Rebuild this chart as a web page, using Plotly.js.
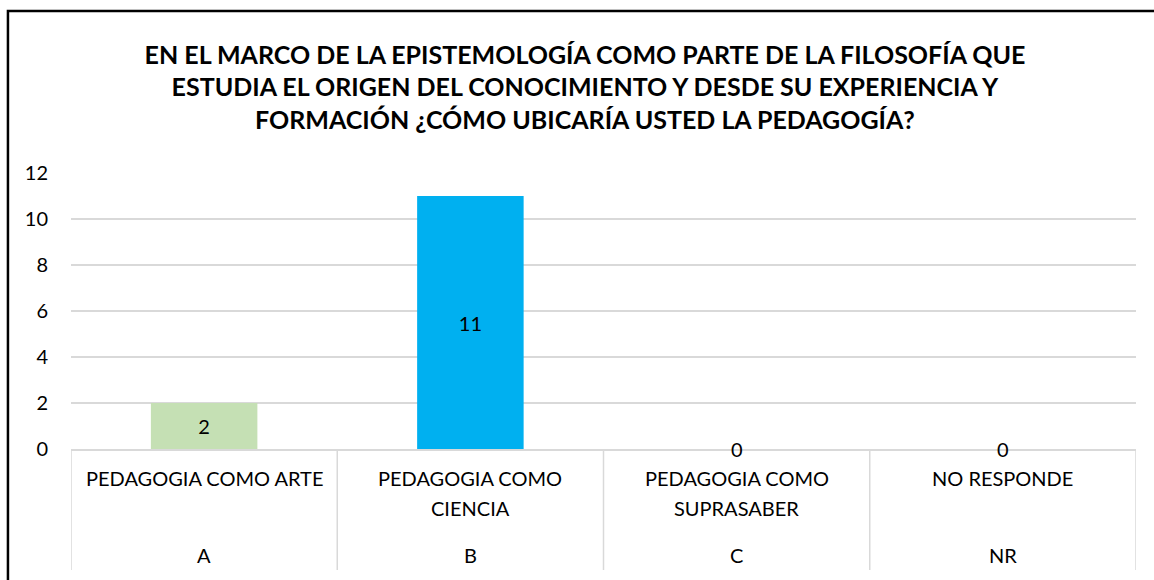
<!DOCTYPE html>
<html>
<head>
<meta charset="utf-8">
<script src="https://cdn.plot.ly/plotly-3.0.1.min.js"></script>
<style>html,body{margin:0;padding:0;background:#fff;}#chart{width:1154px;height:580px;}</style>
</head>
<body>
<div id="chart"></div>
<script>
const outerLabels = ["A", "B", "C", "NR"];
const innerLabels = ["PEDAGOGIA COMO ARTE", "PEDAGOGIA COMO<br>CIENCIA", "PEDAGOGIA COMO<br>SUPRASABER", "NO RESPONDE"];
const values = [2, 11, 0, 0];
const barColors = ["#C5E0B4", "#00B0F0", "#A5A5A5", "#FFC000"];
const titleText = "EN EL MARCO DE LA EPISTEMOLOGÍA COMO PARTE DE LA FILOSOFÍA QUE<br>ESTUDIA EL ORIGEN DEL CONOCIMIENTO Y DESDE SU EXPERIENCIA Y<br>FORMACIÓN ¿CÓMO UBICARÍA USTED LA PEDAGOGÍA?";

const FONT = "Lato, 'Open Sans', sans-serif";
const gridColor = "#D9D9D9";

const trace = {
  type: "bar",
  x: outerLabels,
  y: values,
  marker: {color: barColors},
  text: values.map(v => v > 0 ? String(v) : ""),
  textposition: "inside",
  insidetextanchor: "middle",
  textfont: {family: FONT, size: 20, color: "#000"},
  hoverinfo: "x+y",
  showlegend: false
};

const annotations = [];
const shapes = [];
const plotH = 276;
outerLabels.forEach((c, i) => {
  innerLabels[i].split("<br>").forEach((line, k) => {
    annotations.push({x: c, xref: "x", y: -(29 + 30 * k) / plotH, yref: "paper", yanchor: "middle", text: line,
      showarrow: false, font: {family: FONT, size: 20, color: "#000"}, align: "center"});
  });
  annotations.push({x: c, xref: "x", y: -106 / plotH, yref: "paper", yanchor: "middle", text: c,
    showarrow: false, font: {family: FONT, size: 20, color: "#000"}});
  if (values[i] === 0) {
    annotations.push({x: c, xref: "x", y: values[i], yref: "y", yanchor: "middle", text: String(values[i]),
      showarrow: false, font: {family: FONT, size: 20, color: "#000"}});
  }
});
for (let i = 0; i <= outerLabels.length; i++) {
  shapes.push({type: "line", xref: "x", yref: "paper", x0: i - 0.5, x1: i - 0.5, y0: 0, y1: -121 / plotH,
    line: {color: gridColor, width: 1.5}, layer: "below"});
}
// outer chart frame
shapes.push({type: "rect", xref: "paper", yref: "paper", x0: -0.0592, x1: 1.2, y0: -0.7, y1: 1.587,
  line: {color: "#000", width: 2.5}, fillcolor: "rgba(0,0,0,0)"});

const layout = {
  width: 1154, height: 580,
  margin: {l: 71, r: 18, t: 173, b: 131},
  paper_bgcolor: "#fff", plot_bgcolor: "#fff",
  font: {family: FONT, color: "#000"},
  title: {text: titleText, font: {family: FONT, size: 25, color: "#000", weight: "bold"},
    x: 0.4826, xref: "paper", xanchor: "center", y: 0.8905, yref: "container", yanchor: "top"},
  bargap: 0.6,
  xaxis: {type: "category", range: [-0.5, 3.5], showticklabels: false, showgrid: false,
    showline: true, linecolor: gridColor, linewidth: 1.5, ticks: "", zeroline: false, fixedrange: true},
  yaxis: {range: [0, 12], dtick: 2, tick0: 0, showgrid: true, gridcolor: gridColor, gridwidth: 1.3,
    zeroline: false, showline: false, ticks: "", ticklabelstandoff: 22,
    tickfont: {family: FONT, size: 20, color: "#000"}, fixedrange: true},
  annotations: annotations,
  shapes: shapes
};

Plotly.newPlot("chart", [trace], layout, {displayModeBar: false, staticPlot: true});
</script>
</body>
</html>
